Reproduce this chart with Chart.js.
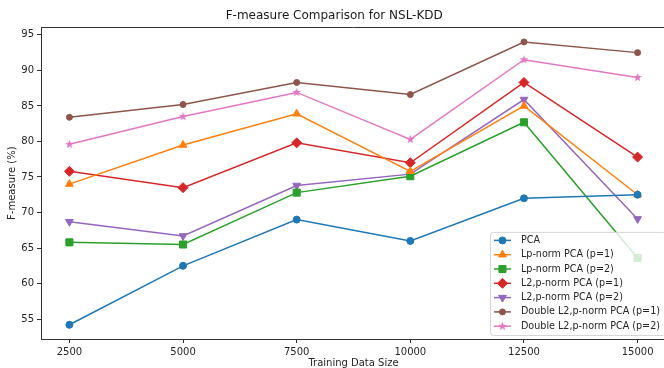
<!DOCTYPE html>
<html>
<head>
<meta charset="utf-8">
<script src="https://cdn.jsdelivr.net/npm/chart.js@4.4.1/dist/chart.umd.min.js"></script>
<style>
html, body { margin: 0; padding: 0; background: #fff; overflow: hidden; }
#wrap { width: 664px; height: 368px; overflow: hidden; position: relative; }
#wrap canvas { position: absolute; left: 0; top: 0; }
</style>
</head>
<body>
<div id="wrap"><canvas id="chart" width="672" height="376"></canvas></div>
<script>
// data
const sizes = [2500, 5000, 7500, 10000, 12500, 15000];
const xTicks = [2500, 5000, 7500, 10000, 12500, 15000];
const yTicks = [55, 60, 65, 70, 75, 80, 85, 90, 95];

const pca        = [54.2, 62.5, 69.0, 66.0, 72.0, 72.5];
const lp1        = [74.0, 79.5, 83.9, 75.8, 85.0, 72.5];
const lp2        = [65.8, 65.5, 72.8, 75.1, 82.7, 63.6];
const l2p1       = [75.8, 73.5, 79.8, 77.0, 88.3, 77.8];
const l2p2       = [68.7, 66.7, 73.8, 75.4, 85.9, 69.1];
const doubleL2p1 = [83.4, 85.2, 88.3, 86.6, 94.0, 92.5];
const doubleL2p2 = [79.6, 83.5, 86.9, 80.3, 91.5, 89.0];

const FONT = 'DejaVu Sans';

// filled star marker like matplotlib '*'
function starImage(color, r) {
    const c = document.createElement('canvas');
    const s = Math.ceil(2 * r + 2);
    c.width = s; c.height = s;
    const g = c.getContext('2d');
    g.fillStyle = color;
    g.beginPath();
    for (let i = 0; i < 10; i++) {
        const rr = i % 2 === 0 ? r : r * 0.42;
        const a = -Math.PI / 2 + i * Math.PI / 5;
        const px = s / 2 + rr * Math.cos(a);
        const py = s / 2 + rr * Math.sin(a);
        if (i === 0) g.moveTo(px, py); else g.lineTo(px, py);
    }
    g.closePath();
    g.fill();
    return c;
}

function series(label, values, color, style, radius, rotation) {
    return {
        label: label,
        data: sizes.map((s, i) => ({ x: s, y: values[i] })),
        borderColor: color,
        backgroundColor: color,
        borderWidth: 1.5,
        pointStyle: style,
        pointRadius: radius,
        pointRotation: rotation || 0,
        pointBorderWidth: 1,
        pointBackgroundColor: color,
        pointBorderColor: color,
        tension: 0
    };
}

const datasets = [
    series('PCA', pca, '#1f77b4', 'circle', 3.5),
    series('Lp-norm PCA (p=1)', lp1, '#ff7f0e', 'triangle', 4.5),
    series('Lp-norm PCA (p=2)', lp2, '#2ca02c', 'rect', 5),
    series('L2,p-norm PCA (p=1)', l2p1, '#d62728', 'rectRot', 5),
    series('L2,p-norm PCA (p=2)', l2p2, '#9467bd', 'triangle', 4.5, 180),
    series('Double L2,p-norm PCA (p=1)', doubleL2p1, '#8c564b', 'circle', 3),
    series('Double L2,p-norm PCA (p=2)', doubleL2p2, '#e377c2', starImage('#e377c2', 4.5), 4.5)
];

// legend box inside the axes, lower right, and the top spine
const boxLegend = {
    id: 'boxLegend',
    afterDatasetsDraw(chart) {
        const ctx = chart.ctx;
        const a = chart.chartArea;
        ctx.save();
        ctx.strokeStyle = '#333';
        ctx.lineWidth = 1;
        ctx.beginPath();
        ctx.moveTo(a.left, Math.round(a.top) + 0.5);
        ctx.lineTo(a.right, Math.round(a.top) + 0.5);
        ctx.stroke();

        ctx.font = '9.6px "' + FONT + '"';
        let maxW = 0;
        chart.data.datasets.forEach(d => { maxW = Math.max(maxW, ctx.measureText(d.label).width); });
        const rowH = 14.3;
        const w = 31 + maxW + 5;
        const h = rowH * chart.data.datasets.length + 3;
        const x = a.right - 1 - w;
        const y = a.bottom - 4 - h;
        ctx.beginPath();
        ctx.roundRect(x + 0.5, y + 0.5, w, h, 3);
        ctx.fillStyle = 'rgba(255,255,255,0.8)';
        ctx.fill();
        ctx.strokeStyle = '#d6d6d6';
        ctx.stroke();

        chart.data.datasets.forEach((d, i) => {
            const cy = y + 8.5 + i * rowH;
            ctx.strokeStyle = d.borderColor;
            ctx.fillStyle = d.borderColor;
            ctx.lineWidth = 1.5;
            ctx.beginPath();
            ctx.moveTo(x + 4, cy);
            ctx.lineTo(x + 21, cy);
            ctx.stroke();
            ctx.lineWidth = 1;
            Chart.helpers.drawPoint(ctx, {
                pointStyle: d.pointStyle,
                radius: d.pointRadius,
                rotation: d.pointRotation,
                borderWidth: 1
            }, x + 12.5, cy);
            ctx.fillStyle = '#262626';
            ctx.textBaseline = 'middle';
            ctx.textAlign = 'left';
            ctx.fillText(d.label, x + 31, cy);
        });
        ctx.restore();
    }
};

new Chart(document.getElementById('chart'), {
    type: 'line',
    data: { datasets: datasets },
    plugins: [boxLegend],
    options: {
        responsive: false,
        animation: false,
        events: [],
        layout: { padding: { left: 0, right: 3.5, top: 0, bottom: 0 } },
        plugins: {
            legend: { display: false },
            tooltip: { enabled: false },
            title: {
                display: true,
                text: 'F-measure Comparison for NSL-KDD',
                color: '#1a1a1a',
                font: { family: FONT, size: 12, weight: 'normal' },
                padding: { top: 9, bottom: 4 }
            }
        },
        scales: {
            x: {
                type: 'linear',
                min: 1875,
                max: 15625,
                afterBuildTicks: s => { s.ticks = xTicks.map(v => ({ value: v })); },
                afterFit: s => { s.height = 37; },
                grid: { drawOnChartArea: false, drawTicks: true, tickLength: 4, color: '#333' },
                border: { display: true, color: '#333' },
                ticks: {
                    color: '#262626',
                    padding: 3,
                    maxRotation: 0,
                    font: { family: FONT, size: 10 },
                    callback: v => String(v)
                },
                title: {
                    display: true,
                    text: 'Training Data Size',
                    color: '#262626',
                    font: { family: FONT, size: 10 },
                    padding: { top: 0, bottom: 7 }
                }
            },
            y: {
                min: 52.2,
                max: 96.05,
                afterBuildTicks: s => { s.ticks = yTicks.map(v => ({ value: v })); },
                afterFit: s => { s.width = 41; },
                grid: { drawOnChartArea: false, drawTicks: true, tickLength: 4, color: '#333' },
                border: { display: true, color: '#333' },
                ticks: {
                    color: '#262626',
                    padding: 3,
                    font: { family: FONT, size: 10 },
                    callback: v => String(v)
                },
                title: {
                    display: true,
                    text: 'F-measure (%)',
                    color: '#262626',
                    font: { family: FONT, size: 10 },
                    padding: { top: 6, bottom: 0 }
                }
            }
        }
    }
});
</script>
</body>
</html>
